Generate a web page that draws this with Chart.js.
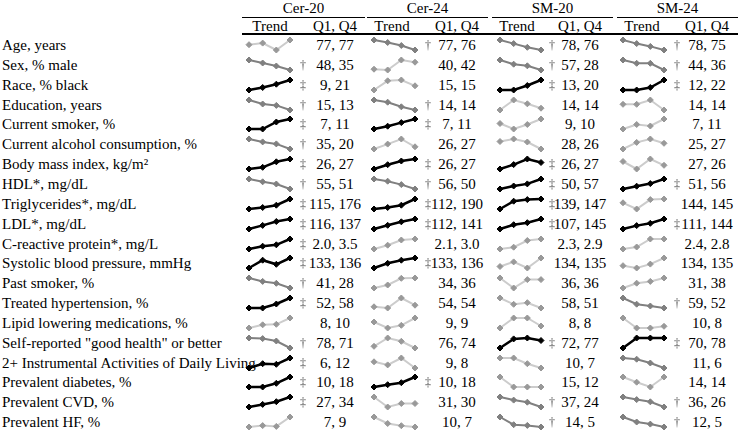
<!DOCTYPE html>
<html>
<head>
<meta charset="utf-8">
<script src="https://cdn.jsdelivr.net/npm/chart.js@4"></script>
<style>
  body { margin: 0; background: #fff; font-family: "Liberation Serif", "Times New Roman", serif; font-size: 15px; color: #000; }
  #wrap { position: relative; width: 740px; height: 431px; overflow: hidden; }
  .t { position: absolute; white-space: nowrap; line-height: 16px; }
  .c { transform: translateX(-50%); }
  .sig { font-size: 12px; color: #555; will-change: transform; }
  .rule { position: absolute; background: #000; }
  canvas { position: absolute; z-index: 2; }
</style>
</head>
<body>
<div id="wrap"></div>
<script>
// rows of the table
const rowLabels = [
  'Age, years', 'Sex, % male', 'Race, % black', 'Education, years', 'Current smoker, %',
  'Current alcohol consumption, %', 'Body mass index, kg/m\u00b2', 'HDL*, mg/dL', 'Triglycerides*, mg/dL',
  'LDL*, mg/dL', 'C-reactive protein*, mg/L', 'Systolic blood pressure, mmHg', 'Past smoker, %',
  'Treated hypertension, %', 'Lipid lowering medications, %', 'Self-reported "good health" or better',
  '2+ Instrumental Activities of Daily Living', 'Prevalent diabetes, %', 'Prevalent CVD, %', 'Prevalent HF, %'
];
const groupNames = ['Cer-20', 'Cer-24', 'SM-20', 'SM-24'];
const quartiles = ['Q1', 'Q2', 'Q3', 'Q4'];

// trend across quartiles (0 = lowest, 10 = highest of each line)
const cer20Trend = [
  [5.3, 6.9, 0, 10], [10, 7, 4, 0], [0, 2.5, 5.8, 10], [10, 6, 4.6, 0], [0, 0, 7, 10],
  [10, 7.1, 5.1, 0], [0, 1.7, 7.2, 10], [10, 7.2, 5, 0], [0, 1.5, 3.8, 10], [0, 3.6, 7.5, 10],
  [0, 2.8, 4.2, 10], [0, 7.8, 3.7, 10], [10, 6.6, 4.7, 0], [0, 0, 4, 10], [0, 3.2, 3.7, 10],
  [10, 9.4, 7, 0], [0, 4.3, 3.7, 10], [0, 0, 3.7, 10], [0, 2.6, 5.3, 10], [0, 1.4, 0.6, 10]
];
const cer24Trend = [
  [10, 7.5, 4.5, 0], [0.8, 0, 10, 7.8], [0, 9.2, 10, 4.2], [10, 7.8, 3.2, 0], [0, 2.8, 6.4, 10],
  [0, 4.9, 10, 2.2], [0, 4.3, 8, 10], [10, 7.8, 4.4, 0], [0, 1.5, 3.8, 10], [0, 3.7, 7.2, 10],
  [0, 3.8, 9, 10], [0, 4.7, 7.8, 10], [0, 3, 9.7, 10], [1.2, 0, 10, 2.8], [6, 0, 2.7, 10],
  [1.7, 10, 6.7, 0], [6.2, 3.1, 10, 0], [0, 2.3, 4.3, 10], [10, 0, 3.5, 3.5], [10, 3.5, 1.3, 0]
];
const sm20Trend = [
  [10, 6.4, 2.7, 0], [10, 5.8, 4.2, 0], [0, 0, 4.5, 10], [0, 10, 6.2, 1.8], [5.5, 0, 4.5, 10],
  [7.5, 10, 7, 0], [0, 4.4, 10, 6.5], [0, 3, 5.1, 10], [0, 7.8, 9.4, 10], [0, 4.3, 6.3, 10],
  [0, 1.8, 8.5, 10], [1.5, 6.1, 0, 10], [10, 0, 8.4, 8.4], [10, 3.7, 5.3, 0], [0, 10, 10, 2],
  [0, 9.1, 10, 7.5], [10, 10, 4.3, 0], [10, 0, 0, 0], [10, 6.9, 4.8, 0], [10, 2.3, 1.6, 0]
];
const sm24Trend = [
  [10, 6.4, 3.6, 0], [10, 6.7, 6.7, 0], [0, 0, 2.5, 10], [5.7, 5.7, 10, 0], [0, 4.5, 3, 10],
  [0, 6.6, 10, 5.7], [7.5, 0, 10, 3.7], [0, 2.8, 5.4, 10], [6.2, 0, 9.4, 10], [0, 3.4, 5.7, 10],
  [0, 2, 10, 10], [2.3, 0, 3.9, 10], [0, 4.8, 6.6, 10], [10, 3.8, 2, 0], [10, 0, 0, 1.7],
  [0, 10, 10, 10], [10, 8.8, 5, 0], [10, 4.8, 0, 10], [10, 7.4, 5.2, 0], [10, 5, 2.9, 0]
];

// Q1, Q4 values
const cer20Q = ['77, 77', '48, 35', '9, 21', '15, 13', '7, 11', '35, 20', '26, 27', '55, 51', '115, 176', '116, 137',
  '2.0, 3.5', '133, 136', '41, 28', '52, 58', '8, 10', '78, 71', '6, 12', '10, 18', '27, 34', '7, 9'];
const cer24Q = ['77, 76', '40, 42', '15, 15', '14, 14', '7, 11', '26, 27', '26, 27', '56, 50', '112, 190', '112, 141',
  '2.1, 3.0', '133, 136', '34, 36', '54, 54', '9, 9', '76, 74', '9, 8', '10, 18', '31, 30', '10, 7'];
const sm20Q = ['78, 76', '57, 28', '13, 20', '14, 14', '9, 10', '28, 26', '26, 27', '50, 57', '139, 147', '107, 145',
  '2.3, 2.9', '134, 135', '36, 36', '58, 51', '8, 8', '72, 77', '10, 7', '15, 12', '37, 24', '14, 5'];
const sm24Q = ['78, 75', '44, 36', '12, 22', '14, 14', '7, 11', '25, 27', '27, 26', '51, 56', '144, 145', '111, 144',
  '2.4, 2.8', '134, 135', '31, 38', '59, 52', '10, 8', '70, 78', '11, 6', '14, 14', '36, 26', '12, 5'];

// significance marks
const cer20Sig = ['', '†', '‡', '†', '‡', '†', '‡', '†', '‡', '‡', '‡', '‡', '†', '‡', '', '†', '‡', '‡', '‡', ''];
const cer24Sig = ['†', '', '', '†', '‡', '', '‡', '†', '‡', '‡', '', '‡', '', '', '', '', '', '‡', '', ''];
const sm20Sig = ['†', '†', '‡', '', '', '', '‡', '‡', '‡', '‡', '', '', '', '', '', '‡', '', '', '†', '†'];
const sm24Sig = ['†', '†', '‡', '', '', '', '', '‡', '', '‡', '', '', '', '†', '', '‡', '', '', '†', '†'];

// line tone: 2 black, 1 dark grey, 0 light grey
const cer20Tone = [0, 1, 2, 1, 2, 1, 2, 1, 2, 2, 2, 2, 1, 2, 0, 1, 2, 2, 2, 0];
const cer24Tone = [1, 0, 0, 1, 2, 0, 2, 1, 2, 2, 0, 2, 0, 0, 0, 0, 0, 2, 0, 0];
const sm20Tone = [1, 1, 2, 0, 0, 0, 2, 2, 2, 2, 0, 0, 0, 0, 0, 2, 0, 0, 1, 1];
const sm24Tone = [1, 1, 2, 0, 0, 0, 0, 2, 0, 2, 0, 0, 0, 1, 0, 2, 1, 0, 1, 1];

const groups = [
  { trend: cer20Trend, q: cer20Q, sig: cer20Sig, tone: cer20Tone, x0: 242, x1: 365, lineX: 248, sigX: 303, valX: 335, trendX: 270 },
  { trend: cer24Trend, q: cer24Q, sig: cer24Sig, tone: cer24Tone, x0: 367, x1: 488, lineX: 373, sigX: 428, valX: 457, trendX: 392 },
  { trend: sm20Trend, q: sm20Q, sig: sm20Sig, tone: sm20Tone, x0: 492, x1: 613, lineX: 499, sigX: 552, valX: 580, trendX: 517 },
  { trend: sm24Trend, q: sm24Q, sig: sm24Sig, tone: sm24Tone, x0: 617, x1: 738, lineX: 622, sigX: 677, valX: 707, trendX: 642 }
];

const toneLine = ['#cccccc', '#808080', '#000000'];
const tonePoint = ['#999999', '#808080', '#000000'];
const toneWidth = [2, 2, 2.5];

const rowY0 = 45, rowStep = 19.85;
const wrap = document.getElementById('wrap');

function addText(txt, x, yc, cls) {
  const d = document.createElement('div');
  d.className = 't ' + (cls || '');
  d.textContent = txt;
  d.style.left = x + 'px';
  d.style.top = (yc - 8) + 'px';
  wrap.appendChild(d);
}
function addRule(x, y, w, h) {
  const d = document.createElement('div');
  d.className = 'rule';
  d.style.left = x + 'px'; d.style.top = y + 'px';
  d.style.width = w + 'px'; d.style.height = h + 'px';
  wrap.appendChild(d);
}

addRule(242, 33, 496, 2);
groups.forEach((g, gi) => {
  addText(groupNames[gi], (g.x0 + g.x1) / 2, 8, 'c');
  addRule(g.x0, 17, g.x1 - g.x0, 1);
  addText('Trend', g.trendX, 26, 'c');
  addText('Q1, Q4', g.valX, 26, 'c');
});

rowLabels.forEach((lab, i) => {
  const yc = rowY0 + i * rowStep;
  addText(lab, 2, yc);
  groups.forEach(g => {
    addText(g.q[i], g.valX, yc, 'c');
    if (g.sig[i]) addText(g.sig[i], g.sigX, yc, 'c sig');

    const cv = document.createElement('canvas');
    cv.width = 51; cv.height = 20;
    cv.style.left = (g.lineX - 4) + 'px';
    cv.style.top = (yc - 10) + 'px';
    wrap.appendChild(cv);
    const tone = g.tone[i];
    new Chart(cv.getContext('2d'), {
      type: 'line',
      data: {
        labels: quartiles,
        datasets: [{
          data: g.trend[i],
          borderColor: toneLine[tone],
          borderWidth: toneWidth[tone],
          pointStyle: 'rectRot',
          pointRadius: 3,
          pointBackgroundColor: tonePoint[tone],
          pointBorderColor: tonePoint[tone],
          pointBorderWidth: 1,
          tension: 0,
          clip: false
        }]
      },
      options: {
        responsive: false,
        animation: false,
        events: [],
        layout: { padding: { left: 4, right: 4, top: 4, bottom: 4 } },
        plugins: { legend: { display: false }, tooltip: { enabled: false } },
        scales: {
          x: { display: false, offset: false },
          y: { display: false, min: 0, max: 10 }
        }
      }
    });
  });
});
</script>
</body>
</html>
